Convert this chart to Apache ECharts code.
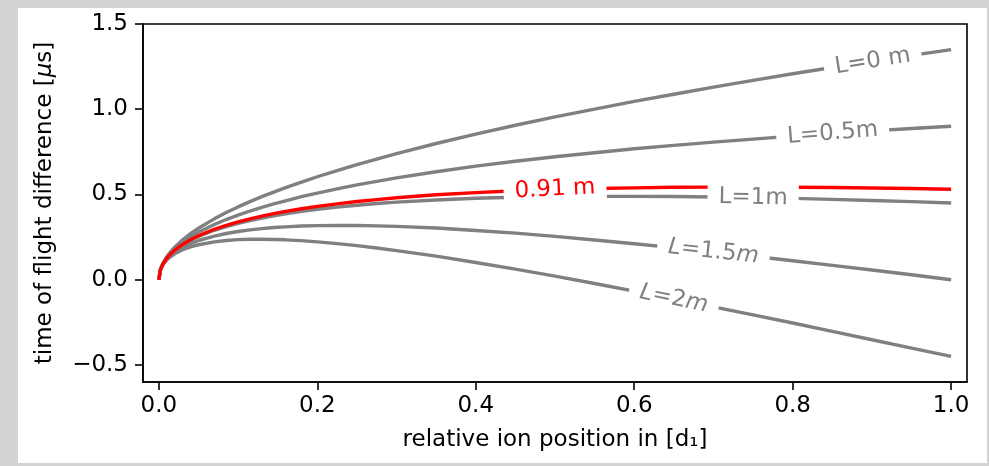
<!DOCTYPE html>
<html>
<head>
<meta charset="utf-8">
<script src="https://cdn.jsdelivr.net/npm/echarts@6/dist/echarts.min.js"></script>
<style>
  html, body { margin: 0; padding: 0; background: #d3d3d3; }
  #panel { position: absolute; left: 18px; top: 8px; width: 969px; height: 455px; background: #fff; }
  #chart { position: absolute; left: 0; top: 0; width: 989px; height: 466px; }
</style>
</head>
<body>
<div id="panel"></div>
<div id="chart"></div>
<script>
// relative ion position samples
const xs = [0, 0.002, 0.005, 0.01, 0.015, 0.02, 0.03, 0.04, 0.05, 0.07, 0.085, 0.1, 0.115,
  0.13, 0.145, 0.16, 0.18, 0.2, 0.225, 0.25, 0.275, 0.3,
  0.35, 0.4, 0.45, 0.5, 0.55, 0.6, 0.65, 0.7, 0.75, 0.8, 0.85, 0.9, 0.95, 1.0];

// time of flight difference [us] for each drift length
const tL0 = [0, 0.060, 0.095, 0.135, 0.165, 0.191, 0.234, 0.270, 0.302, 0.357, 0.394, 0.427, 0.458,
  0.487, 0.514, 0.540, 0.573, 0.604, 0.640, 0.675, 0.708, 0.739,
  0.799, 0.854, 0.906, 0.955, 1.001, 1.046, 1.088, 1.130, 1.169, 1.208, 1.245, 1.281, 1.316, 1.350];
const tL05 = [0, 0.059, 0.093, 0.130, 0.158, 0.181, 0.219, 0.251, 0.278, 0.324, 0.353, 0.379, 0.403,
  0.424, 0.445, 0.463, 0.487, 0.508, 0.533, 0.556, 0.577, 0.597,
  0.633, 0.666, 0.695, 0.721, 0.745, 0.768, 0.788, 0.807, 0.825, 0.842, 0.858, 0.873, 0.887, 0.900];
const tL091 = [0, 0.059, 0.091, 0.126, 0.152, 0.173, 0.207, 0.235, 0.258, 0.296, 0.319, 0.339, 0.357,
  0.373, 0.388, 0.401, 0.416, 0.430, 0.445, 0.459, 0.470, 0.481,
  0.498, 0.511, 0.522, 0.530, 0.535, 0.539, 0.542, 0.543, 0.543, 0.542, 0.541, 0.538, 0.535, 0.531];
const tL1 = [0, 0.058, 0.091, 0.125, 0.151, 0.172, 0.205, 0.231, 0.254, 0.290, 0.312, 0.331, 0.347,
  0.362, 0.375, 0.387, 0.401, 0.413, 0.426, 0.437, 0.447, 0.455,
  0.468, 0.478, 0.484, 0.488, 0.489, 0.489, 0.488, 0.485, 0.481, 0.477, 0.471, 0.465, 0.458, 0.450];
const tL15 = [0, 0.058, 0.088, 0.121, 0.144, 0.162, 0.190, 0.212, 0.230, 0.256, 0.271, 0.283, 0.292,
  0.300, 0.306, 0.310, 0.315, 0.317, 0.319, 0.318, 0.316, 0.313,
  0.303, 0.289, 0.273, 0.254, 0.233, 0.211, 0.188, 0.163, 0.138, 0.111, 0.084, 0.057, 0.029, 0.000];
const tL2 = [0, 0.057, 0.086, 0.116, 0.136, 0.152, 0.176, 0.193, 0.205, 0.222, 0.230, 0.235, 0.237,
  0.237, 0.236, 0.234, 0.229, 0.222, 0.212, 0.200, 0.186, 0.171,
  0.138, 0.101, 0.062, 0.021, -0.022, -0.067, -0.113, -0.159, -0.206, -0.254, -0.303, -0.352, -0.401, -0.450];

// inline curve labels (text, x, y in data units)
const labelTexts = ["L=0 m", "L=0.5m", "0.91 m", "L=1m", "{it|L}=1.5{it|m}", "{it|L}=2{it|m}"];
const labelX = [0.901, 0.8505, 0.50, 0.75, 0.70, 0.65];
const labelY = [1.281, 0.858, 0.530, 0.481, 0.163, -0.113];

const xTicks = [0, 0.2, 0.4, 0.6, 0.8, 1.0];
const yTicks = [-0.5, 0, 0.5, 1.0, 1.5];

const GRAY = "#808080";
const RED = "#ff0000";
const FONT = "DejaVu Sans";
const labelRotate = [9, 4.6, 3, -1, -6.2, -11.4];
const labelColor = [GRAY, GRAY, RED, GRAY, GRAY, GRAY];

const pairs = (ys) => xs.map((x, i) => [x, ys[i]]);
const curve = (name, ys, color) => ({
  name,
  type: "line",
  data: pairs(ys),
  showSymbol: false,
  symbol: "none",
  lineStyle: { color, width: 3.4, join: "round", cap: "butt" },
  z: 2,
});

const chart = echarts.init(document.getElementById("chart"), null, { renderer: "canvas" });

chart.setOption({
  animation: false,
  grid: {
    left: 143, top: 24, width: 824, height: 358,
    show: true, borderColor: "#000", borderWidth: 1.6, backgroundColor: "transparent",
  },
  xAxis: {
    type: "value",
    min: -0.02,
    max: 1.02,
    axisLine: { show: true, onZero: false, lineStyle: { color: "#000", width: 1.6 } },
    axisTick: { show: true, length: 8, customValues: xTicks, lineStyle: { color: "#000", width: 1.6 } },
    axisLabel: {
      customValues: xTicks,
      formatter: (v) => v.toFixed(1),
      fontSize: 23, fontFamily: FONT, color: "#000", margin: 13,
    },
    splitLine: { show: false },
    name: "relative ion position in [d\u2081]",
    nameLocation: "middle",
    nameGap: 47,
    nameTextStyle: { fontSize: 23, fontFamily: FONT, color: "#000" },
  },
  yAxis: {
    type: "value",
    min: -0.6,
    max: 1.5,
    axisLine: { show: true, onZero: false, lineStyle: { color: "#000", width: 1.6 } },
    axisTick: { show: true, length: 8, customValues: yTicks, lineStyle: { color: "#000", width: 1.6 } },
    axisLabel: {
      customValues: yTicks,
      formatter: (v) => v.toFixed(1).replace("-", "\u2212"),
      fontSize: 23, fontFamily: FONT, color: "#000", margin: 15,
    },
    splitLine: { show: false },
    name: "time of flight difference [{it|\u03bc}s]",
    nameLocation: "middle",
    nameGap: 86,
    nameTextStyle: {
      fontSize: 23, fontFamily: FONT, color: "#000",
      rich: { it: { fontSize: 23, fontFamily: FONT, fontStyle: "italic", color: "#000" } },
    },
  },
  series: [
    curve("L=0", tL0, GRAY),
    curve("L=0.5", tL05, GRAY),
    curve("L=1", tL1, GRAY),
    curve("L=1.5", tL15, GRAY),
    curve("L=2", tL2, GRAY),
    curve("0.91 m", tL091, RED),
    {
      name: "labels",
      type: "scatter",
      symbolSize: 0,
      z: 10,
      silent: true,
      itemStyle: { opacity: 1 },
      data: labelTexts.map((t, i) => ({
        value: [labelX[i], labelY[i]],
        label: {
          show: true,
          position: "inside",
          formatter: t,
          rotate: labelRotate[i],
          color: labelColor[i],
          opacity: 1,
          fontSize: 23,
          fontFamily: FONT,
          backgroundColor: "#fff",
          padding: [2, 11],
          rich: {
            it: { fontSize: 23, fontFamily: FONT, fontStyle: "italic", color: labelColor[i] },
          },
        },
      })),
    },
  ],
});
</script>
</body>
</html>
